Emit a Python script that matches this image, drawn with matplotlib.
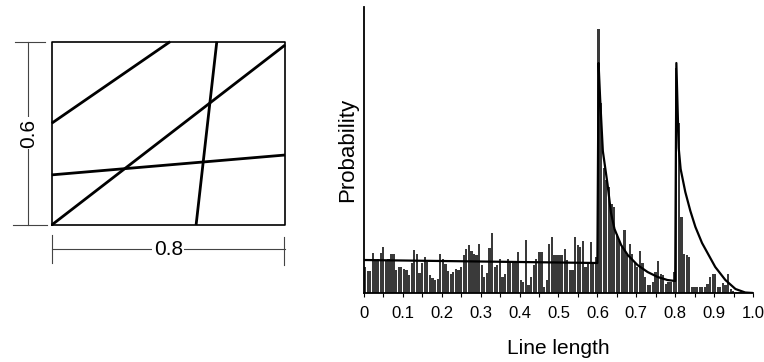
"""
Chord lengths in a 0.8 x 0.6 rectangle: sample lines (left) and
histogram of line lengths with theoretical curve (right)
"""

import numpy as np
import matplotlib
matplotlib.use("Agg")
import matplotlib.pyplot as plt

plt.rcParams['font.family'] = ['Liberation Sans', 'DejaVu Sans']

# --- left panel: rectangle and sample lines (data units) ---
rect_w = 0.8
rect_h = 0.6
lines_x = [[0.0, 0.406], [0.0, 0.8], [0.566, 0.495], [0.0, 0.8]]
lines_y = [[0.333, 0.6], [0.0, 0.589], [0.6, 0.0], [0.164, 0.229]]

# --- right panel: histogram of line length (arbitrary units) ---
n_bins = 150
counts = [26, 22, 22, 40, 32, 34, 40, 46, 33, 34,
          39, 39, 23, 26, 26, 24, 23, 18, 30, 43,
          39, 20, 30, 36, 31, 18, 15, 13, 14, 39,
          34, 29, 22, 19, 21, 24, 23, 26, 38, 44,
          48, 42, 39, 38, 49, 28, 16, 20, 45, 60,
          26, 28, 34, 16, 19, 34, 32, 31, 30, 41,
          13, 11, 53, 8, 16, 28, 34, 41, 41, 6,
          13, 49, 56, 38, 38, 38, 38, 44, 33, 23,
          23, 56, 48, 46, 52, 26, 30, 51, 29, 36,
          264, 190, 125, 113, 106, 89, 86, 59, 52, 46,
          63, 38, 49, 39, 30, 26, 42, 30, 16, 8,
          8, 11, 21, 32, 19, 18, 9, 11, 11, 21,
          225, 170, 76, 39, 38, 36, 6, 6, 6, 6,
          6, 6, 9, 16, 19, 19, 6, 6, 10, 8,
          19, 4, 2, 1, 1, 1, 0.5, 0.5, 0.5, 0.5]

# theoretical curve
curve_x = [0.0, 0.6, 0.6, 0.603, 0.607, 0.614, 0.626, 0.635, 0.644, 0.661,
           0.678, 0.703, 0.729, 0.755, 0.78, 0.8, 0.8, 0.803, 0.809, 0.814,
           0.826, 0.839, 0.852, 0.869, 0.886, 0.903, 0.929, 0.955, 0.98, 1.0]
curve_y = [33, 30, 30, 230, 195, 142, 109, 80, 64, 48,
           38, 28, 21, 16, 13, 12, 12, 230, 145, 124,
           101, 82, 66, 50, 38, 26, 13, 4, 0.5, 0]

major_ticks = [0, 0.1, 0.2, 0.3, 0.4, 0.5, 0.6, 0.7, 0.8, 0.9, 1.0]
major_labels = ['0', '0.1', '0.2', '0.3', '0.4', '0.5', '0.6', '0.7', '0.8', '0.9', '1.0']
minor_ticks = [0.05, 0.15, 0.25, 0.35, 0.45, 0.55, 0.65, 0.75, 0.85, 0.95]

fig = plt.figure(figsize=(7.64, 3.62), dpi=100)

# left panel
ax1 = fig.add_axes([0.0677, 0.3785, 0.3054, 0.5064])
ax1.set_xlim(0, rect_w)
ax1.set_ylim(0, rect_h)
ax1.axis('off')
ax1.plot([0, rect_w, rect_w, 0, 0], [0, 0, rect_h, rect_h, 0],
         color='black', lw=1.2, clip_on=False)
for lx, ly in zip(lines_x, lines_y):
    ax1.plot(lx, ly, color='black', lw=2.0, clip_on=False, solid_capstyle='butt')

# dimension marks
dim_kw = dict(color='#444444', lw=0.8, clip_on=False)
ax1.plot([-0.08, -0.08], [0, rect_h], **dim_kw)
ax1.plot([-0.126, -0.023], [rect_h, rect_h], **dim_kw)
ax1.plot([-0.133, -0.016], [0, 0], **dim_kw)
ax1.text(-0.08, rect_h / 2, '0.6', rotation=90, ha='center', va='center',
         fontsize=15, bbox=dict(facecolor='white', edgecolor='none', pad=1))
ax1.plot([0, rect_w], [-0.079, -0.079], **dim_kw)
ax1.plot([0, 0], [-0.033, -0.124], **dim_kw)
ax1.plot([rect_w - 0.003, rect_w - 0.003], [-0.04, -0.13], **dim_kw)
ax1.text(0.4, -0.079, '0.8', ha='center', va='center', fontsize=15,
         bbox=dict(facecolor='white', edgecolor='none', pad=1))

# right panel
ax2 = fig.add_axes([0.4764, 0.1906, 0.5092, 0.790])
edges = np.arange(n_bins) / n_bins
ax2.bar(edges, counts, width=0.85 / n_bins, align='edge', color='#3a3a3a',
        linewidth=0)
ax2.plot(curve_x, curve_y, color='black', lw=1.6)
ax2.set_xlim(0, 1.0)
ax2.set_ylim(0, 286)
ax2.spines['top'].set_visible(False)
ax2.spines['right'].set_visible(False)
ax2.spines['left'].set_linewidth(1.3)
ax2.spines['bottom'].set_linewidth(1.3)
ax2.set_yticks([])
ax2.set_xticks(major_ticks)
ax2.set_xticklabels(major_labels, fontsize=12)
ax2.set_xticks(minor_ticks, minor=True)
ax2.tick_params(axis='x', which='both', direction='out', length=3, width=0.8, pad=6)
ax2.set_xlabel('Line length', fontsize=15, labelpad=13)
ax2.set_ylabel('Probability', fontsize=16, labelpad=4)

fig.savefig('out.png', dpi=100)
